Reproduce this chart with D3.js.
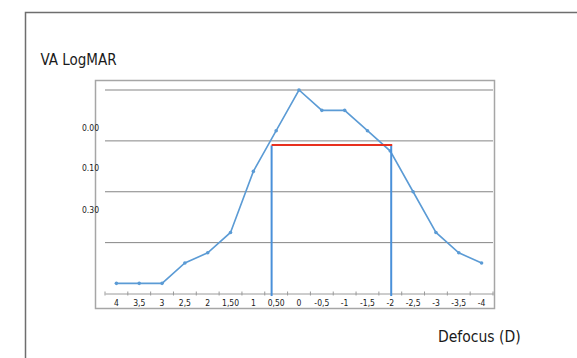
<!DOCTYPE html>
<html>
<head>
<meta charset="utf-8">
<script src="https://cdn.jsdelivr.net/npm/d3@7"></script>
<style>
  body { margin: 0; background: #fff; }
  text { font-family: "DejaVu Sans Condensed", "DejaVu Sans", sans-serif; fill: #1a1a1a; }
</style>
</head>
<body>
<script>
// data
const categories = ["4", "3,5", "3", "2,5", "2", "1,50", "1", "0,50", "0",
                    "-0,5", "-1", "-1,5", "-2", "-2,5", "-3", "-3,5", "-4"];
const vaScore = [2, 2, 2, 6, 8, 12, 24, 32, 40, 36, 36, 32, 28, 20, 12, 8, 6];
const gridValues = [10, 20, 30, 40];
const yLabelText = ["0.00", "0.10", "0.30"];
const yLabelValues = [32.5, 24.6, 16.4];
// depth-of-focus annotation
const rangeLevel = 29.2;
const rangeFrom = 0.6;
const rangeTo = -2.02;

const W = 577, H = 358;
const plot = {left: 105, right: 493, top: 90, bottom: 293.5};
const labelFont = "DejaVu Sans Condensed, DejaVu Sans, sans-serif";

const svg = d3.select("body").append("svg")
    .attr("width", W)
    .attr("height", H);

// outer frame (left and top edges only visible)
svg.append("path")
    .attr("d", `M25.5,${H} V12.5 H${W}`)
    .attr("fill", "none")
    .attr("stroke", "#6e6e6e")
    .attr("stroke-width", 1.5);

// inner plot frame
svg.append("rect")
    .attr("x", 95.5).attr("y", 80.5)
    .attr("width", 399).attr("height", 228)
    .attr("fill", "none")
    .attr("stroke", "#a6a6a6")
    .attr("stroke-width", 1.5);

// scales
const xBand = d3.scaleBand()
    .domain(categories)
    .range([plot.left, plot.right]);

const defocus = categories.map(c => +c.replace(",", "."));
const xLin = d3.scaleLinear()
    .domain([defocus[0], defocus[defocus.length - 1]])
    .range([xBand(categories[0]) + xBand.bandwidth() / 2,
            xBand(categories[categories.length - 1]) + xBand.bandwidth() / 2]);

const yScale = d3.scaleLinear()
    .domain([0, 40])
    .range([plot.bottom, plot.top]);

// gridlines
svg.append("g")
    .selectAll("line")
    .data(gridValues)
    .enter().append("line")
    .attr("x1", plot.left).attr("x2", plot.right)
    .attr("y1", d => yScale(d)).attr("y2", d => yScale(d))
    .attr("stroke", "#858585")
    .attr("stroke-width", 1);

// y labels (free text in the original)
svg.append("g")
    .selectAll("text")
    .data(yLabelValues)
    .enter().append("text")
    .attr("x", 99)
    .attr("y", d => yScale(d))
    .attr("dy", "0.35em")
    .attr("text-anchor", "end")
    .attr("font-size", 8.5)
    .text((d, i) => yLabelText[i]);

// x axis
const xAxis = d3.axisBottom(xBand).tickSize(0).tickPadding(6);
const gx = svg.append("g")
    .attr("transform", `translate(0,${plot.bottom})`)
    .call(xAxis);
gx.select(".domain").attr("stroke", "#9a9a9a");
gx.selectAll(".tick text")
    .attr("font-size", 8.5)
    .attr("font-family", labelFont)
    .attr("fill", "#1a1a1a");

// tick marks at category boundaries
const bounds = categories.map(c => xBand(c)).concat([plot.right]);
gx.selectAll(".bound")
    .data(bounds)
    .enter().append("line")
    .attr("class", "bound")
    .attr("x1", d => d).attr("x2", d => d)
    .attr("y1", -2).attr("y2", 2)
    .attr("stroke", "#9a9a9a");

// the curve
const valueline = d3.line()
    .x((d, i) => xBand(categories[i]) + xBand.bandwidth() / 2)
    .y(d => yScale(d));

svg.append("path")
    .datum(vaScore)
    .attr("d", valueline)
    .attr("fill", "none")
    .attr("stroke", "#5b9bd5")
    .attr("stroke-width", 1.6);

svg.selectAll(".dot")
    .data(vaScore)
    .enter().append("circle")
    .attr("class", "dot")
    .attr("r", 1.8)
    .attr("cx", (d, i) => xBand(categories[i]) + xBand.bandwidth() / 2)
    .attr("cy", d => yScale(d))
    .attr("fill", "#5b9bd5");

// annotation: verticals and red depth-of-focus bar
svg.selectAll(".vline")
    .data([rangeFrom, rangeTo])
    .enter().append("line")
    .attr("class", "vline")
    .attr("x1", d => xLin(d)).attr("x2", d => xLin(d))
    .attr("y1", yScale(rangeLevel) + 0.5)
    .attr("y2", yScale(-0.5))
    .attr("stroke", "#4a90d9")
    .attr("stroke-width", 2);

svg.append("line")
    .attr("x1", xLin(rangeFrom)).attr("x2", xLin(rangeTo) + 1)
    .attr("y1", yScale(rangeLevel)).attr("y2", yScale(rangeLevel))
    .attr("stroke", "#e8301e")
    .attr("stroke-width", 2);

// titles
svg.append("text")
    .attr("x", 40.5).attr("y", 65)
    .attr("font-size", 15)
    .text("VA LogMAR");

svg.append("text")
    .attr("x", 438).attr("y", 341.5)
    .attr("font-size", 15.5)
    .text("Defocus (D)");
</script>
</body>
</html>
